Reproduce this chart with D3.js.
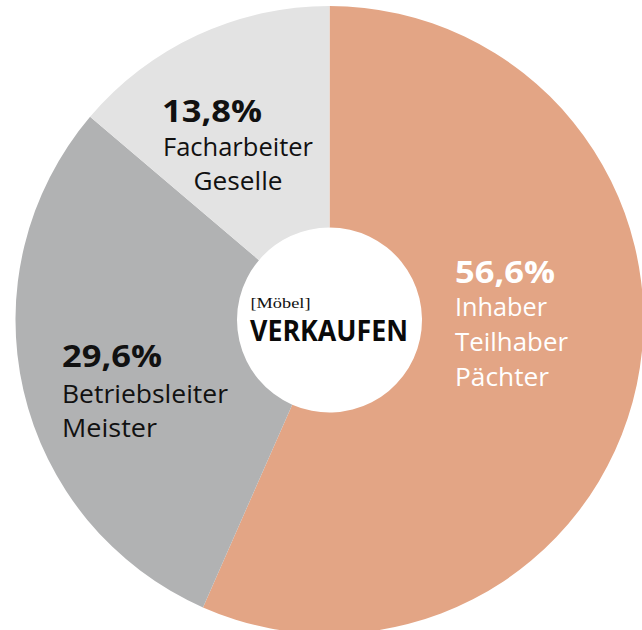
<!DOCTYPE html>
<html><head><meta charset="utf-8">
<script src="https://cdn.jsdelivr.net/npm/d3@7"></script>
<style>html,body{margin:0;padding:0;background:#fff;}svg{display:block;}</style>
</head><body>
<script>
const categories = ["Inhaber / Teilhaber / Pächter", "Betriebsleiter / Meister", "Facharbeiter / Geselle"];
const values = [56.6, 29.6, 13.8];
const percentLabels = ["56,6%", "29,6%", "13,8%"];
const labelLines = [["Inhaber", "Teilhaber", "Pächter"], ["Betriebsleiter", "Meister"], ["Facharbeiter", "Geselle"]];
const colors = ["#e3a585", "#b1b2b3", "#e3e3e3"];
const textColors = ["#ffffff", "#111111", "#111111"];

const W = 642, H = 630, cx = 329.5, cy = 320, R = 314, r0 = 92.5;
const svg = d3.select("body").append("svg").attr("width", W).attr("height", H);
const g = svg.append("g").attr("transform", `translate(${cx},${cy})`);

const pie = d3.pie().sort(null).value(d => d)(values);
const arc = d3.arc().innerRadius(r0).outerRadius(R);
g.selectAll("path.slice").data(pie).join("path").attr("class","slice")
  .attr("d", arc).attr("fill", (d,i) => colors[i]);

const layout = [
  {px: 455, py: 283, pw: 100, lines: [{x:455,y:316,a:"start",w:92},{x:455,y:351,a:"start",w:113},{x:455,y:386,a:"start",w:94}]},
  {px: 62, py: 367, pw: 100, lines: [{x:62,y:403,a:"start",w:166},{x:62,y:437,a:"start",w:95}]},
  {px: 162, py: 122, pw: 100, lines: [{x:238,y:156,a:"middle",w:150},{x:238,y:190,a:"middle",w:89}]}
];
const font = "'Open Sans', 'Noto Sans', sans-serif";
const lab = svg.append("g");
layout.forEach((L, i) => {
  lab.append("text").attr("x", L.px).attr("y", L.py).attr("font-family", font)
    .attr("font-weight", 700).attr("font-size", 31).attr("fill", textColors[i])
    .attr("textLength", L.pw).attr("lengthAdjust", "spacingAndGlyphs").text(percentLabels[i]);
  labelLines[i].forEach((t, j) => {
    const ln = L.lines[j];
    lab.append("text").attr("x", ln.x).attr("y", ln.y).attr("font-family", font)
      .attr("font-size", 25).attr("font-weight", 500).attr("fill", textColors[i]).attr("text-anchor", ln.a)
      .attr("textLength", ln.w).attr("lengthAdjust", "spacingAndGlyphs").text(t);
  });
});

// centre logo
svg.append("text").attr("x", 250.5).attr("y", 308).attr("font-family", "'Liberation Serif', 'DejaVu Serif', serif")
  .attr("font-size", 14).attr("fill", "#111").attr("textLength", 60).attr("lengthAdjust", "spacingAndGlyphs").text("[Möbel]");
svg.append("text").attr("x", 250).attr("y", 340.5).attr("font-family", font).attr("font-weight", 700)
  .attr("font-size", 29).attr("fill", "#0a0a0a").attr("textLength", 158).attr("lengthAdjust", "spacingAndGlyphs").text("VERKAUFEN");
</script>
</body></html>
